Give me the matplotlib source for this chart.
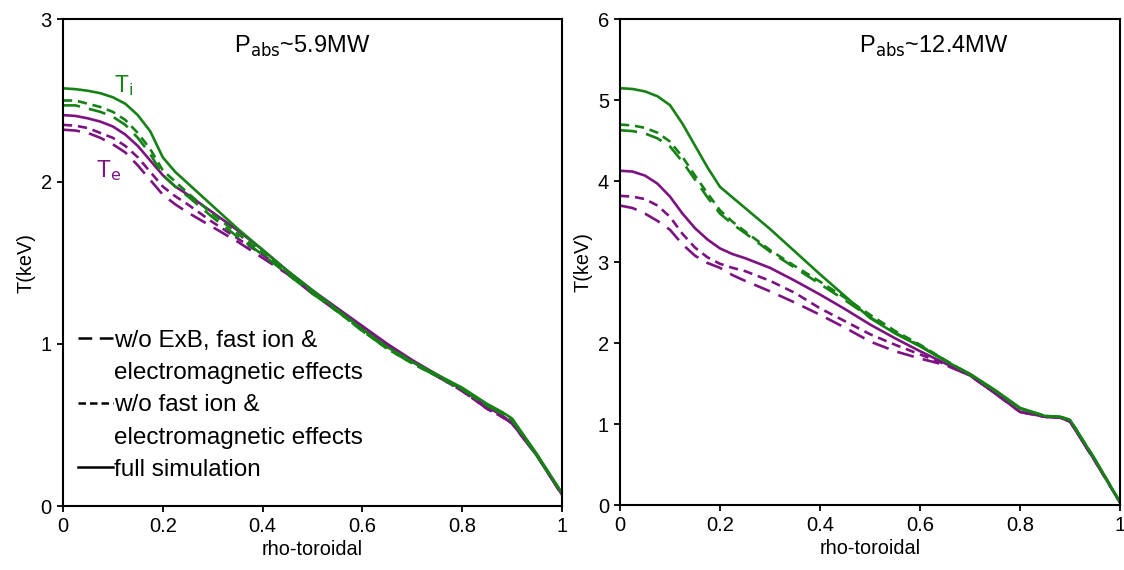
import matplotlib
matplotlib.use('Agg')
import matplotlib.pyplot as plt
from matplotlib.lines import Line2D

plt.rcParams['font.family'] = ['Liberation Sans', 'DejaVu Sans']

# radial grid (rho-toroidal)
rho = [0, 0.025, 0.05, 0.075, 0.1, 0.125, 0.15, 0.175, 0.2, 0.225, 0.25,
       0.3, 0.35, 0.4, 0.45, 0.5, 0.55, 0.6, 0.65, 0.7, 0.75, 0.8, 0.85, 0.88, 0.9, 0.95, 1.0]

# --- Pabs ~ 5.9 MW ---
ti_full_a = [2.575, 2.57, 2.56, 2.545, 2.52, 2.48, 2.41, 2.31, 2.15, 2.06, 1.99,
             1.85, 1.71, 1.58, 1.45, 1.33, 1.21, 1.09, 0.98, 0.89, 0.81, 0.73, 0.63, 0.58, 0.54, 0.32, 0.08]
ti_nofi_a = [2.50, 2.50, 2.48, 2.46, 2.43, 2.38, 2.30, 2.20, 2.07, 2.00, 1.93,
             1.80, 1.68, 1.56, 1.44, 1.32, 1.20, 1.08, 0.97, 0.88, 0.80, 0.72, 0.62, 0.57, 0.53, 0.31, 0.08]
ti_noexb_a = [2.47, 2.47, 2.45, 2.43, 2.40, 2.35, 2.27, 2.17, 2.04, 1.97, 1.91,
              1.78, 1.66, 1.55, 1.43, 1.31, 1.20, 1.08, 0.97, 0.88, 0.80, 0.72, 0.62, 0.57, 0.53, 0.31, 0.08]
te_full_a = [2.41, 2.405, 2.39, 2.37, 2.34, 2.29, 2.22, 2.13, 2.04, 1.97, 1.92,
             1.81, 1.70, 1.58, 1.45, 1.33, 1.22, 1.11, 1.00, 0.90, 0.81, 0.72, 0.61, 0.56, 0.51, 0.31, 0.07]
te_nofi_a = [2.35, 2.345, 2.33, 2.30, 2.27, 2.22, 2.15, 2.06, 1.97, 1.91, 1.86,
             1.75, 1.65, 1.55, 1.44, 1.32, 1.21, 1.10, 0.99, 0.89, 0.80, 0.71, 0.60, 0.55, 0.51, 0.31, 0.07]
te_noexb_a = [2.32, 2.315, 2.30, 2.27, 2.23, 2.18, 2.10, 2.01, 1.92, 1.86, 1.81,
              1.72, 1.63, 1.53, 1.43, 1.31, 1.20, 1.10, 0.99, 0.89, 0.80, 0.71, 0.60, 0.55, 0.51, 0.31, 0.07]

# --- Pabs ~ 12.4 MW ---
ti_full_b = [5.15, 5.14, 5.11, 5.05, 4.94, 4.71, 4.44, 4.17, 3.93, 3.80, 3.67,
             3.41, 3.13, 2.85, 2.58, 2.31, 2.12, 1.96, 1.78, 1.62, 1.42, 1.20, 1.10, 1.09, 1.05, 0.56, 0.03]
ti_nofi_b = [4.70, 4.69, 4.66, 4.60, 4.49, 4.30, 4.07, 3.85, 3.64, 3.50, 3.38,
             3.15, 2.95, 2.76, 2.56, 2.35, 2.15, 1.98, 1.79, 1.61, 1.41, 1.19, 1.10, 1.09, 1.05, 0.56, 0.03]
ti_noexb_b = [4.63, 4.62, 4.59, 4.53, 4.43, 4.24, 4.02, 3.80, 3.60, 3.47, 3.36,
              3.13, 2.93, 2.73, 2.53, 2.32, 2.13, 1.97, 1.79, 1.61, 1.41, 1.19, 1.10, 1.09, 1.05, 0.56, 0.03]
te_full_b = [4.13, 4.12, 4.07, 3.97, 3.81, 3.60, 3.42, 3.28, 3.17, 3.10, 3.05,
             2.93, 2.77, 2.60, 2.42, 2.23, 2.06, 1.90, 1.75, 1.60, 1.38, 1.15, 1.09, 1.08, 1.03, 0.54, 0.03]
te_nofi_b = [3.82, 3.81, 3.78, 3.70, 3.56, 3.35, 3.18, 3.06, 2.98, 2.93, 2.89,
             2.77, 2.62, 2.43, 2.27, 2.11, 1.98, 1.86, 1.74, 1.60, 1.38, 1.15, 1.09, 1.08, 1.03, 0.54, 0.03]
te_noexb_b = [3.70, 3.67, 3.60, 3.51, 3.40, 3.22, 3.08, 2.99, 2.93, 2.84, 2.77,
              2.64, 2.50, 2.35, 2.19, 2.02, 1.90, 1.81, 1.73, 1.60, 1.38, 1.15, 1.09, 1.08, 1.03, 0.54, 0.03]

titles = ['P$_{\\rm abs}$~5.9MW', 'P$_{\\rm abs}$~12.4MW']
green = '#168216'
purple = '#7d1283'
long_dash = (0, (6.5, 3.5))
short_dash = (0, (3.5, 2.2))
lw = 1.9

fig = plt.figure(figsize=(11.24, 5.70), dpi=100)
ax1 = fig.add_axes([0.056, 0.112, 0.444, 0.854])
ax2 = fig.add_axes([0.5516, 0.114, 0.445, 0.852])

panels = [
    (ax1, [ti_full_a, ti_nofi_a, ti_noexb_a], [te_full_a, te_nofi_a, te_noexb_a], 3),
    (ax2, [ti_full_b, ti_nofi_b, ti_noexb_b], [te_full_b, te_nofi_b, te_noexb_b], 6),
]
styles = ['-', short_dash, long_dash]

for ax, ti, te, ymax in panels:
    for y, ls in zip(te, styles):
        ax.plot(rho, y, color=purple, ls=ls, lw=lw, solid_joinstyle='round')
    for y, ls in zip(ti, styles):
        ax.plot(rho, y, color=green, ls=ls, lw=lw, solid_joinstyle='round')
    ax.set_xlim(0, 1)
    ax.set_ylim(0, ymax)
    ax.set_xticks([0, 0.2, 0.4, 0.6, 0.8, 1])
    ax.set_xticklabels(['0', '0.2', '0.4', '0.6', '0.8', '1'])
    ax.set_yticks(range(ymax + 1))
    ax.tick_params(direction='out', length=4, width=1.3, labelsize=14.5, pad=4)
    for s in ax.spines.values():
        s.set_linewidth(1.5)
    ax.set_xlabel('rho-toroidal', fontsize=14.3, labelpad=3)
    ax.set_ylabel('T(keV)', fontsize=14.3, labelpad=4)

ax1.text(0.479, 0.945, titles[0], transform=ax1.transAxes, ha='center', va='center', fontsize=17)
ax2.text(0.628, 0.945, titles[1], transform=ax2.transAxes, ha='center', va='center', fontsize=17)

ax1.text(0.122, 2.59, 'T$_{\\rm i}$', color=green, ha='center', va='center', fontsize=16.5)
ax1.text(0.092, 2.07, 'T$_{\\rm e}$', color=purple, ha='center', va='center', fontsize=16.5)

handles = [
    Line2D([], [], color='black', ls=(0, (5.5, 3.0)), lw=1.8),
    Line2D([], [], color='none'),
    Line2D([], [], color='black', ls=(0, (3.0, 1.6)), lw=1.8),
    Line2D([], [], color='none'),
    Line2D([], [], color='black', ls='-', lw=1.8),
]
labels = ['w/o ExB, fast ion &', 'electromagnetic effects',
          'w/o fast ion &', 'electromagnetic effects', 'full simulation']
ax1.legend(handles, labels, loc='lower left', bbox_to_anchor=(0.0, 0.022),
           frameon=False, fontsize=17.5, handlelength=1.45, handletextpad=0.05,
           labelspacing=0.42, borderaxespad=0.2)

fig.savefig('out.png', dpi=100)
